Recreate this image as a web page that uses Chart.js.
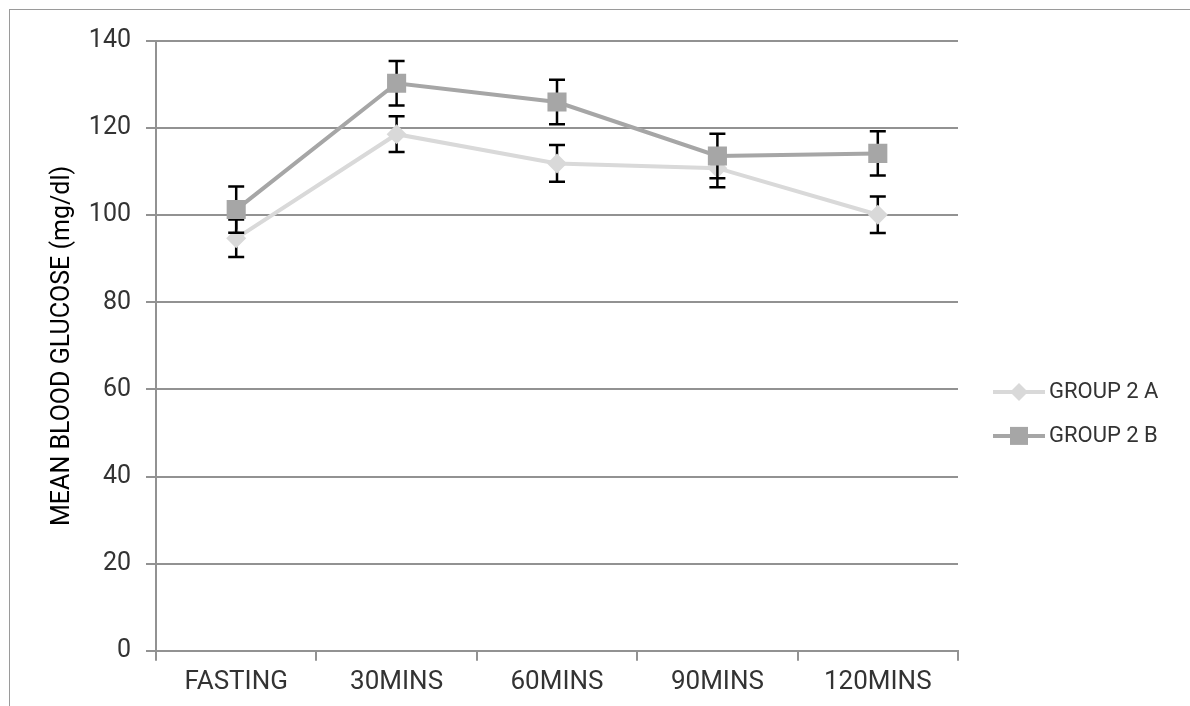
<!DOCTYPE html>
<html>
<head>
<meta charset="utf-8">
<script src="https://cdn.jsdelivr.net/npm/chart.js@4.4.0/dist/chart.umd.min.js"></script>
<style>
  html, body { margin: 0; padding: 0; background: #fff; }
  #wrap { position: relative; width: 1190px; height: 706px; }
  #frame { position: absolute; left: 9px; top: 9px; right: 0; bottom: 0; border-left: 1px solid #9a9a9a; border-top: 1px solid #9a9a9a; }
  canvas { position: absolute; left: 0; top: 0; }
</style>
</head>
<body>
<div id="wrap">
  <div id="frame"></div>
  <canvas id="glucoseChart" width="1190" height="706"></canvas>
</div>
<script>
const timePoints = ["FASTING", "30MINS", "60MINS", "90MINS", "120MINS"];
const group2A = [94.7, 118.6, 111.9, 110.8, 100.1];
const group2AErr = [4.3, 4.1, 4.2, 4.4, 4.2];
const group2B = [101.3, 130.3, 126.0, 113.6, 114.2];
const group2BErr = [5.3, 5.1, 5.1, 5.1, 5.1];
const seriesNames = ["GROUP 2 A", "GROUP 2 B"];
const yTicks = [0, 20, 40, 60, 80, 100, 120, 140];

const colorA = "#d9d9d9";
const colorB = "#a6a6a6";
const gridColor = "#929292";
const errors = [group2AErr, group2BErr];

// error bars under each series' own markers, over the series drawn before it
const errorBars = {
    id: "errorBars",
    beforeDatasetDraw(chart, args) {
        const errs = errors[args.index];
        const ys = chart.scales.y;
        const ctx = chart.ctx;
        const values = chart.data.datasets[args.index].data;
        ctx.save();
        ctx.strokeStyle = "#000";
        ctx.lineWidth = 2.5;
        args.meta.data.forEach((pt, i) => {
            const top = ys.getPixelForValue(values[i] + errs[i]);
            const bot = ys.getPixelForValue(values[i] - errs[i]);
            ctx.beginPath();
            ctx.moveTo(pt.x, top);
            ctx.lineTo(pt.x, bot);
            ctx.moveTo(pt.x - 8, top);
            ctx.lineTo(pt.x + 8, top);
            ctx.moveTo(pt.x - 8, bot);
            ctx.lineTo(pt.x + 8, bot);
            ctx.stroke();
        });
        ctx.restore();
    }
};

const sideLegend = {
    id: "sideLegend",
    afterDraw(chart) {
        const ctx = chart.ctx;
        const area = chart.chartArea;
        const mid = (area.top + area.bottom) / 2;
        const x0 = area.right + 35;
        const rows = [
            { name: seriesNames[0], color: colorA, shape: "diamond", y: mid + 46 },
            { name: seriesNames[1], color: colorB, shape: "square", y: mid + 90 }
        ];
        ctx.save();
        rows.forEach((r) => {
            ctx.strokeStyle = r.color;
            ctx.lineWidth = 4;
            ctx.beginPath();
            ctx.moveTo(x0, r.y);
            ctx.lineTo(x0 + 52, r.y);
            ctx.stroke();
            ctx.fillStyle = r.color;
            const cx = x0 + 26;
            if (r.shape === "square") {
                ctx.fillRect(cx - 9, r.y - 9, 18, 18);
            } else {
                ctx.beginPath();
                ctx.moveTo(cx - 9, r.y);
                ctx.lineTo(cx, r.y - 9);
                ctx.lineTo(cx + 9, r.y);
                ctx.lineTo(cx, r.y + 9);
                ctx.closePath();
                ctx.fill();
            }
            ctx.fillStyle = "#333";
            ctx.font = "22px Roboto";
            ctx.textBaseline = "middle";
            ctx.fillText(r.name, x0 + 56, r.y + 1);
        });
        ctx.restore();
    }
};

const ctx = document.getElementById("glucoseChart").getContext("2d");

new Chart(ctx, {
    type: "line",
    data: {
        labels: timePoints,
        datasets: [
            {
                label: seriesNames[0],
                data: group2A,
                borderColor: colorA,
                backgroundColor: colorA,
                borderWidth: 4,
                pointStyle: "rectRot",
                pointRadius: 10,
                pointBorderWidth: 0,
                tension: 0,
                order: 2,
            },
            {
                label: seriesNames[1],
                data: group2B,
                borderColor: colorB,
                backgroundColor: colorB,
                borderWidth: 4,
                pointStyle: "rect",
                pointRadius: 13.5,
                pointBorderWidth: 0,
                tension: 0,
                order: 1,
            },
        ],
    },
    options: {
        responsive: false,
        animation: false,
        layout: {
            padding: { top: 41, right: 232, bottom: 2, left: 0 },
        },
        scales: {
            x: {
                offset: true,
                grid: {
                    offset: true,
                    drawOnChartArea: false,
                    drawTicks: true,
                    tickLength: 10,
                    color: gridColor,
                    lineWidth: 2,
                },
                border: { display: true, color: gridColor, width: 2 },
                ticks: {
                    color: "#333",
                    font: { family: "Roboto", size: 26 },
                    padding: 6,
                    maxRotation: 0,
                },
            },
            y: {
                min: 0,
                max: 140,
                afterBuildTicks(scale) {
                    scale.ticks = yTicks.map((v) => ({ value: v }));
                },
                afterFit(scale) {
                    scale.width = 156;
                },
                grid: {
                    color: gridColor,
                    lineWidth: 2,
                    drawTicks: true,
                    tickLength: 10,
                },
                border: { display: true, color: gridColor, width: 2 },
                ticks: {
                    color: "#333",
                    font: { family: "Roboto", size: 25 },
                    padding: 15,
                },
                title: {
                    display: true,
                    text: "MEAN BLOOD GLUCOSE (mg/dl)",
                    color: "#000",
                    font: { family: "Roboto", size: 25 },
                    padding: { top: 48, bottom: 0 },
                },
            },
        },
        plugins: {
            legend: { display: false },
            tooltip: { enabled: false },
        },
    },
    plugins: [errorBars, sideLegend],
});
</script>
</body>
</html>
